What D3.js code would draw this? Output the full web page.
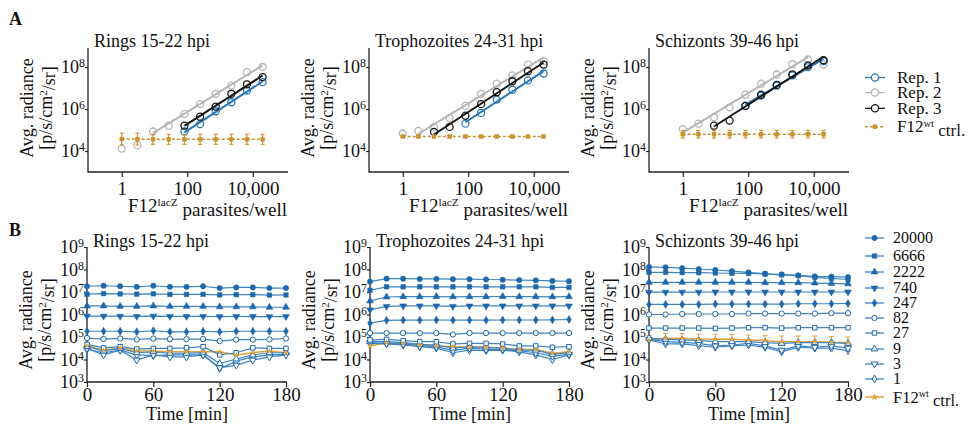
<!DOCTYPE html>
<html>
<head>
<meta charset="utf-8">
<script src="https://cdn.jsdelivr.net/npm/d3@7"></script>
<style>
  body { margin: 0; background: #fff; }
  svg text { font-family: "Liberation Serif", "Times New Roman", serif; fill: #111; }
</style>
</head>
<body>
<svg id="chart" width="969" height="424"></svg>
<script>
// ---------- data ----------
const concentrations = [1, 3, 9, 27, 82, 247, 740, 2222, 6666, 20000]
const xTicksA = [1, 100, 10000]
const yTicksA = [1e4, 1e6, 1e8]
const stageTitles = ["Rings 15-22 hpi", "Trophozoites 24-31 hpi", "Schizonts 39-46 hpi"]
const repNames = ["Rep. 1", "Rep. 2", "Rep. 3"]

// panel A: avg. radiance per replicate (null = not plotted)
const ringsRep1 = [null, null, null, null, 8.5e4, 1.9e5, 7.8e5, 2.1e6, 7.6e6, 1.9e7]
const ringsRep2 = [1.3e4, 1.9e4, 8.5e4, 1.6e5, 5.8e5, 1.7e6, 5.3e6, 1.3e7, 5.7e7, 1.0e8]
const ringsRep3 = [null, null, null, null, 1.6e5, 4.3e5, 1.3e6, 5.3e6, 1.5e7, 3.3e7]
const ringsCtrl = [3.7e4, 3.7e4, 3.6e4, 3.6e4, 3.6e4, 3.6e4, 3.6e4, 3.6e4, 3.6e4, 3.6e4]
const ringsCtrlErr = [0.28, 0.28, 0.24, 0.24, 0.24, 0.24, 0.24, 0.24, 0.24, 0.24] // log10
const ringsFit = [[4, 9], [2, 9], [4, 9]] // first/last point index of each fit line

const trophRep1 = [null, null, null, null, 2.0e5, 6.5e5, 2.8e6, 8.3e6, 2.3e7, 4.9e7]
const trophRep2 = [6.8e4, 9.0e4, 1.4e5, 3.7e5, 1.4e6, 5.3e6, 1.6e7, 4.0e7, 1.3e8, 1.9e8]
const trophRep3 = [null, null, 8.2e4, 1.4e5, 4.8e5, 1.7e6, 6.3e6, 2.1e7, 6.3e7, 1.3e8]
const trophCtrl = [4.9e4, 4.9e4, 4.9e4, 4.9e4, 4.9e4, 4.9e4, 4.9e4, 4.9e4, 4.9e4, 4.9e4]
const trophCtrlErr = [0.05, 0.05, 0.05, 0.05, 0.05, 0.05, 0.05, 0.05, 0.05, 0.05]
const trophFit = [[4, 9], [1, 9], [2, 9]]

const schizRep1 = [null, null, null, null, 1.4e6, 4.4e6, 1.3e7, 4.0e7, 1.0e8, 1.9e8]
const schizRep2 = [1.1e5, 2.0e5, 4.0e5, 1.2e6, 4.8e6, 1.6e7, 4.4e7, 1.35e8, 2.3e8, 1.3e8]
const schizRep3 = [null, null, 1.6e5, 2.8e5, 1.4e6, 4.8e6, 1.4e7, 4.5e7, 1.2e8, 2.1e8]
const schizCtrl = [6.3e4, 6.3e4, 6.3e4, 6.3e4, 6.3e4, 6.3e4, 6.3e4, 6.3e4, 6.3e4, 6.3e4]
const schizCtrlErr = [0.18, 0.18, 0.18, 0.18, 0.18, 0.18, 0.18, 0.18, 0.18, 0.18]
const schizFit = [[4, 9], [0, 8], [2, 9]]

// panel B: kinetics, rows in legend order 20000 ... 1
const timePoints = [0, 15, 30, 45, 60, 75, 90, 105, 120, 135, 150, 165, 180]
const xTicksB = [0, 60, 120, 180]
const yTicksB = [1e3, 1e4, 1e5, 1e6, 1e7, 1e8, 1e9]
const doseLabels = ["20000", "6666", "2222", "740", "247", "82", "27", "9", "3", "1"]

const ringsKinetics = [
  [1.8e7, 1.9e7, 1.8e7, 1.7e7, 1.9e7, 1.7e7, 1.7e7, 1.8e7, 1.5e7, 1.6e7, 1.6e7, 1.5e7, 1.5e7],
  [8.0e6, 8.5e6, 8.2e6, 8.0e6, 8.3e6, 7.8e6, 7.8e6, 7.9e6, 7.4e6, 7.6e6, 7.6e6, 7.3e6, 7.4e6],
  [2.4e6, 2.4e6, 2.3e6, 2.3e6, 2.4e6, 2.3e6, 2.3e6, 2.3e6, 2.2e6, 2.2e6, 2.2e6, 2.1e6, 2.1e6],
  [8.5e5, 8.5e5, 8.4e5, 8.2e5, 8.5e5, 8.2e5, 8.2e5, 8.2e5, 8.0e5, 8.2e5, 8.1e5, 8.0e5, 8.1e5],
  [1.8e5, 1.8e5, 1.8e5, 1.7e5, 1.9e5, 1.7e5, 1.7e5, 1.8e5, 1.7e5, 1.8e5, 1.8e5, 1.8e5, 1.8e5],
  [9.0e4, 8.1e4, 8.6e4, 7.8e4, 8.5e4, 8.0e4, 8.0e4, 8.1e4, 6.6e4, 7.6e4, 7.6e4, 7.8e4, 8.6e4],
  [4.7e4, 3.3e4, 3.7e4, 2.9e4, 3.1e4, 3.1e4, 3.3e4, 3.7e4, 1.6e4, 2.0e4, 3.3e4, 3.1e4, 3.1e4],
  [3.7e4, 2.4e4, 3.1e4, 2.0e4, 2.2e4, 1.9e4, 1.9e4, 2.0e4, 6.6e3, 1.05e4, 1.6e4, 2.0e4, 2.0e4],
  [3.1e4, 1.6e4, 2.6e4, 9.4e3, 1.6e4, 1.3e4, 1.3e4, 1.6e4, 4.3e3, 5.6e3, 9.4e3, 1.3e4, 1.6e4],
  [2.9e4, 2.0e4, 2.6e4, 1.6e4, 1.5e4, 1.6e4, 1.6e4, 1.6e4, 4.0e3, 8.5e3, 1.3e4, 1.6e4, 1.7e4]
]
const ringsKineticsCtrl = [4.1e4, 2.6e4, 3.3e4, 2.4e4, 2.4e4, 2.2e4, 2.2e4, 2.2e4, 2.2e4, 1.6e4, 2.0e4, 2.4e4, 2.0e4]

const trophKinetics = [
  [2.9e7, 3.9e7, 3.9e7, 3.8e7, 3.8e7, 3.7e7, 3.7e7, 3.6e7, 3.5e7, 3.4e7, 3.3e7, 3.1e7, 3.0e7],
  [1.2e7, 1.7e7, 1.7e7, 1.7e7, 1.7e7, 1.7e7, 1.7e7, 1.7e7, 1.7e7, 1.7e7, 1.7e7, 1.6e7, 1.6e7],
  [4.0e6, 6.0e6, 6.2e6, 6.2e6, 6.3e6, 6.1e6, 6.2e6, 6.2e6, 6.3e6, 6.2e6, 6.2e6, 6.1e6, 6.2e6],
  [1.6e6, 2.3e6, 2.4e6, 2.4e6, 2.4e6, 2.3e6, 2.4e6, 2.4e6, 2.4e6, 2.4e6, 2.4e6, 2.4e6, 2.4e6],
  [4.1e5, 5.5e5, 5.6e5, 5.6e5, 5.7e5, 5.6e5, 5.6e5, 5.6e5, 5.7e5, 5.7e5, 5.7e5, 5.8e5, 6.0e5],
  [1.5e5, 1.5e5, 1.5e5, 1.5e5, 1.5e5, 1.3e5, 1.5e5, 1.5e5, 1.5e5, 1.5e5, 1.5e5, 1.5e5, 1.5e5],
  [7.4e4, 7.9e4, 6.9e4, 6.2e4, 6.2e4, 4.9e4, 5.2e4, 5.2e4, 4.9e4, 4.0e4, 4.0e4, 3.5e4, 3.7e4],
  [6.2e4, 6.2e4, 5.6e4, 4.7e4, 4.4e4, 3.2e4, 3.7e4, 3.5e4, 3.2e4, 2.6e4, 2.6e4, 1.7e4, 2.0e4],
  [5.6e4, 5.2e4, 4.9e4, 4.0e4, 3.7e4, 2.5e4, 3.2e4, 2.8e4, 2.8e4, 2.5e4, 2.0e4, 1.4e4, 1.7e4],
  [5.2e4, 4.9e4, 4.4e4, 3.7e4, 3.2e4, 2.0e4, 2.6e4, 2.5e4, 2.6e4, 2.2e4, 1.6e4, 1.0e4, 1.6e4]
]
const trophKineticsCtrl = [4.0e4, 5.6e4, 5.2e4, 4.4e4, 4.0e4, 3.7e4, 3.5e4, 3.5e4, 3.2e4, 2.8e4, 2.8e4, 1.9e4, 2.2e4]

const schizKinetics = [
  [1.3e8, 1.25e8, 1.15e8, 1.05e8, 9.5e7, 8.5e7, 7.5e7, 6.5e7, 6.0e7, 5.5e7, 5.0e7, 4.8e7, 4.6e7],
  [7.5e7, 7.5e7, 7.3e7, 7.2e7, 7.0e7, 6.8e7, 6.7e7, 6.3e7, 5.8e7, 5.3e7, 4.5e7, 4.0e7, 3.6e7],
  [2.7e7, 2.7e7, 2.7e7, 2.7e7, 2.7e7, 2.7e7, 2.7e7, 2.6e7, 2.6e7, 2.6e7, 2.5e7, 2.4e7, 2.3e7],
  [9.8e6, 9.8e6, 9.9e6, 9.9e6, 1.0e7, 1.0e7, 1.0e7, 1.0e7, 1.0e7, 1.0e7, 1.0e7, 1.0e7, 1.0e7],
  [2.8e6, 2.8e6, 2.8e6, 2.8e6, 2.9e6, 2.9e6, 2.9e6, 2.9e6, 2.9e6, 3.0e6, 3.0e6, 3.0e6, 3.1e6],
  [1.0e6, 1.0e6, 1.05e6, 1.05e6, 1.05e6, 1.05e6, 1.1e6, 1.1e6, 1.1e6, 1.1e6, 1.1e6, 1.15e6, 1.15e6],
  [2.5e5, 2.5e5, 2.5e5, 2.5e5, 2.4e5, 2.5e5, 2.6e5, 2.6e5, 2.5e5, 2.6e5, 2.6e5, 2.6e5, 2.6e5],
  [8.7e4, 7.9e4, 7.4e4, 6.9e4, 6.2e4, 6.2e4, 6.2e4, 5.6e4, 5.2e4, 5.6e4, 5.6e4, 5.6e4, 5.2e4],
  [7.9e4, 6.2e4, 5.8e4, 5.2e4, 4.0e4, 4.4e4, 5.2e4, 4.0e4, 2.6e4, 4.0e4, 3.5e4, 4.0e4, 3.2e4],
  [7.4e4, 4.9e4, 4.9e4, 4.1e4, 3.5e4, 4.0e4, 4.4e4, 3.5e4, 2.2e4, 3.5e4, 3.2e4, 3.2e4, 2.5e4]
]
const schizKineticsCtrl = [7.4e4, 8.7e4, 8.7e4, 8.1e4, 7.9e4, 7.9e4, 7.4e4, 6.9e4, 6.2e4, 6.2e4, 6.2e4, 5.8e4, 5.6e4]
const schizKineticsCtrlErr = [0.2, 0.22, 0.22, 0.22, 0.22, 0.22, 0.22, 0.22, 0.25, 0.25, 0.25, 0.25, 0.25]

// ---------- drawing ----------
const svg = d3.select("#chart")
const blue = "#2a77b4", gray = "#b5b5b5", black = "#151515", gold = "#c99330"
const repColors = [blue, gray, black]
const lineBlue = "#3d84c2", markBlue = "#1f67ab", goldB = "#e0a23c"

const supTick = (sel) => {
  sel.selectAll(".tick text").each(function (d) {
    const t = d3.select(this)
    t.append("tspan").text("10")
    t.append("tspan").attr("dy", "-0.5em").attr("font-size", "0.66em").text(Math.round(Math.log10(d)))
  })
}

const yLabel = (g, x0, cy) => {
  g.append("text")
    .attr("transform", `translate(${x0 - 55},${cy}) rotate(-90)`)
    .attr("text-anchor", "middle").attr("font-size", 18)
    .text("Avg. radiance")
  const t = g.append("text")
    .attr("transform", `translate(${x0 - 36},${cy}) rotate(-90)`)
    .attr("text-anchor", "middle").attr("font-size", 18)
  t.append("tspan").text("[p/s/cm")
  t.append("tspan").attr("dy", "-0.45em").attr("font-size", "0.62em").text("2")
  t.append("tspan").attr("dy", "0.45em").text("/sr]")
}

const logFit = (xs, ys) => {
  const pts = xs.map((d, i) => [Math.log10(d), Math.log10(ys[i])])
  const mx = d3.mean(pts, (d) => d[0]), my = d3.mean(pts, (d) => d[1])
  const b = d3.sum(pts, (d) => (d[0] - mx) * (d[1] - my)) / d3.sum(pts, (d) => (d[0] - mx) ** 2)
  const a = my - b * mx
  return (x) => 10 ** (a + b * Math.log10(x))
}

// panel letters
svg.append("text").attr("x", 9).attr("y", 25).attr("font-size", 18).attr("font-weight", "bold").text("A")
svg.append("text").attr("x", 9).attr("y", 236).attr("font-size", 18).attr("font-weight", "bold").text("B")

// ----- panel A -----
const panelA = [
  { reps: [ringsRep1, ringsRep2, ringsRep3], fits: ringsFit, ctrl: ringsCtrl, err: ringsCtrlErr },
  { reps: [trophRep1, trophRep2, trophRep3], fits: trophFit, ctrl: trophCtrl, err: trophCtrlErr },
  { reps: [schizRep1, schizRep2, schizRep3], fits: schizFit, ctrl: schizCtrl, err: schizCtrlErr }
]
const axisXA = [88, 369, 649]

panelA.forEach((p, i) => {
  const x0 = axisXA[i]
  const x = d3.scaleLog().domain([0.1, 1e5]).range([x0 + 1, x0 + 197.5])
  const y = d3.scaleLog().domain([1e3, 1e9]).range([172, 46])
  const g = svg.append("g")

  g.append("text").attr("x", x0 + 6).attr("y", 47).attr("font-size", 18).text(stageTitles[i])

  g.append("path").attr("d", `M${x0},48V172H${x0 + 200}`)
    .attr("fill", "none").attr("stroke", "#222").attr("stroke-width", 1.3)

  g.append("g").attr("transform", "translate(0,172)")
    .call(d3.axisBottom(x).tickValues(xTicksA).tickFormat(d3.format(",")).tickSize(5).tickPadding(5))
    .call((a) => a.select(".domain").remove())
    .attr("font-family", null).attr("font-size", 19)
    .call((a) => a.selectAll("line").attr("stroke", "#222").attr("stroke-width", 1.2))

  g.append("g").attr("transform", `translate(${x0},0)`)
    .call(d3.axisLeft(y).tickValues(yTicksA).tickFormat("").tickSize(3).tickPadding(0))
    .call((a) => a.select(".domain").remove())
    .attr("font-family", null).attr("font-size", 18)
    .call((a) => a.selectAll("line").attr("stroke", "#222").attr("stroke-width", 1.2))
    .call(supTick)

  yLabel(g, x0, 108)

  const xl = g.append("text").attr("x", x0 + 40).attr("y", 212).attr("font-size", 19)
  xl.append("tspan").text("F12")
  xl.append("tspan").attr("dy", "-0.5em").attr("font-size", "0.6em").text("lacZ")
  xl.append("tspan").attr("dy", "0.5em").text(" parasites/well")

  // replicate fits and points
  p.reps.forEach((rep, r) => {
    const [s, e] = p.fits[r]
    const xs = concentrations.slice(s, e + 1), ys = rep.slice(s, e + 1)
    const f = logFit(xs, ys)
    g.append("line")
      .attr("x1", x(xs[0])).attr("y1", y(f(xs[0])))
      .attr("x2", x(xs[xs.length - 1])).attr("y2", y(f(xs[xs.length - 1])))
      .attr("stroke", repColors[r]).attr("stroke-width", 2)
    g.selectAll(null)
      .data(concentrations.map((c, k) => ({ c, v: rep[k] })).filter((d) => d.v !== null))
      .enter().append("circle")
      .attr("cx", (d) => x(d.c)).attr("cy", (d) => y(d.v)).attr("r", 3.5)
      .attr("fill", "none").attr("stroke", repColors[r]).attr("stroke-width", 1.3)
  })

  // F12 wt control
  const ctrl = concentrations.map((c, k) => ({ c, v: p.ctrl[k], e: p.err[k] }))
  g.append("path").datum(ctrl)
    .attr("d", d3.line().x((d) => x(d.c)).y((d) => y(d.v)))
    .attr("fill", "none").attr("stroke", gold).attr("stroke-width", 1.6).attr("stroke-dasharray", "3,2")
  const eb = g.selectAll(null).data(ctrl).enter().append("g").attr("stroke", gold).attr("stroke-width", 1.1)
  eb.append("line").attr("x1", (d) => x(d.c)).attr("x2", (d) => x(d.c))
    .attr("y1", (d) => y(d.v * 10 ** d.e)).attr("y2", (d) => y(d.v / 10 ** d.e))
  eb.append("line").attr("x1", (d) => x(d.c) - 2).attr("x2", (d) => x(d.c) + 2)
    .attr("y1", (d) => y(d.v * 10 ** d.e)).attr("y2", (d) => y(d.v * 10 ** d.e))
  eb.append("line").attr("x1", (d) => x(d.c) - 2).attr("x2", (d) => x(d.c) + 2)
    .attr("y1", (d) => y(d.v / 10 ** d.e)).attr("y2", (d) => y(d.v / 10 ** d.e))
  g.selectAll(null).data(ctrl).enter().append("rect")
    .attr("x", (d) => x(d.c) - 2.2).attr("y", (d) => y(d.v) - 2.2)
    .attr("width", 4.4).attr("height", 4.4).attr("fill", gold)
})

// legend A
const legA = svg.append("g")
const legAY = [77.5, 92.5, 108.3, 126.7]
repNames.forEach((n, r) => {
  legA.append("line").attr("x1", 865).attr("x2", 885).attr("y1", legAY[r]).attr("y2", legAY[r])
    .attr("stroke", repColors[r]).attr("stroke-width", 1.3)
  legA.append("circle").attr("cx", 875).attr("cy", legAY[r]).attr("r", 3.6)
    .attr("fill", "#fff").attr("stroke", repColors[r]).attr("stroke-width", 1.3)
  legA.append("text").attr("x", 897).attr("y", legAY[r]).attr("dy", "0.34em").attr("font-size", 17).text(n)
})
legA.append("line").attr("x1", 865).attr("x2", 885).attr("y1", legAY[3]).attr("y2", legAY[3])
  .attr("stroke", gold).attr("stroke-width", 1.6).attr("stroke-dasharray", "3,2")
legA.append("rect").attr("x", 872.8).attr("y", legAY[3] - 2.2).attr("width", 4.4).attr("height", 4.4).attr("fill", gold)
const lA = legA.append("text").attr("x", 897).attr("y", legAY[3]).attr("dy", "0.34em").attr("font-size", 17)
lA.append("tspan").text("F12")
lA.append("tspan").attr("dy", "-0.5em").attr("font-size", "0.62em").text("wt")
lA.append("tspan").attr("dy", "0.5em").text(" ctrl.")

// ----- panel B -----
const panelB = [
  { series: ringsKinetics, ctrl: ringsKineticsCtrl, err: null },
  { series: trophKinetics, ctrl: trophKineticsCtrl, err: null },
  { series: schizKinetics, ctrl: schizKineticsCtrl, err: schizKineticsCtrlErr }
]
const axisXB = [87, 370, 649]
const shapes = [d3.symbolCircle, d3.symbolSquare, d3.symbolTriangle, d3.symbolTriangle, d3.symbolDiamond,
  d3.symbolCircle, d3.symbolSquare, d3.symbolTriangle, d3.symbolTriangle, d3.symbolDiamond]
const shapeSize = [22, 20, 20, 20, 18, 22, 20, 20, 20, 18]
const shapeRot = [0, 0, 0, 180, 0, 0, 0, 0, 180, 0]

const marker = (sel, k) => {
  sel.attr("d", d3.symbol().type(shapes[k]).size(shapeSize[k])())
    .attr("fill", k < 5 ? markBlue : "#fff")
    .attr("stroke", markBlue).attr("stroke-width", k < 5 ? 0.6 : 1)
}

panelB.forEach((p, i) => {
  const x0 = axisXB[i]
  const x = d3.scaleLinear().domain([0, 180]).range([x0, x0 + 199])
  const y = d3.scaleLog().domain([1e3, 1e9]).range([382, 247])
  const g = svg.append("g")

  g.append("text").attr("x", x0 + 6).attr("y", 247).attr("font-size", 18).text(stageTitles[i])

  g.append("path").attr("d", `M${x0},247V382H${x0 + 200}`)
    .attr("fill", "none").attr("stroke", "#222").attr("stroke-width", 1.3)

  g.append("g").attr("transform", "translate(0,382)")
    .call(d3.axisBottom(x).tickValues(xTicksB).tickSize(5).tickPadding(1))
    .call((a) => a.select(".domain").remove())
    .attr("font-family", null).attr("font-size", 19)
    .call((a) => a.selectAll("line").attr("stroke", "#222").attr("stroke-width", 1.2))

  g.append("g").attr("transform", `translate(${x0},0)`)
    .call(d3.axisLeft(y).tickValues(yTicksB).tickFormat("").tickSize(3).tickPadding(0))
    .call((a) => a.select(".domain").remove())
    .attr("font-family", null).attr("font-size", 18)
    .call((a) => a.selectAll("line").attr("stroke", "#222").attr("stroke-width", 1.2))
    .call(supTick)

  yLabel(g, x0, 320)

  g.append("text").attr("x", x0 + 100).attr("y", 419.5).attr("text-anchor", "middle")
    .attr("font-size", 18).text("Time [min]")

  const line = d3.line().x((d, k) => x(timePoints[k])).y((d) => y(d))

  // control
  g.append("path").datum(p.ctrl).attr("d", line)
    .attr("fill", "none").attr("stroke", goldB).attr("stroke-width", 1.5)
  if (p.err) {
    const eb = g.selectAll(null).data(p.ctrl.map((v, k) => ({ t: timePoints[k], v, e: p.err[k] })))
      .enter().append("g").attr("stroke", goldB).attr("stroke-width", 1)
    eb.append("line").attr("x1", (d) => x(d.t)).attr("x2", (d) => x(d.t))
      .attr("y1", (d) => y(d.v)).attr("y2", (d) => y(d.v * 10 ** d.e))
    eb.append("line").attr("x1", (d) => x(d.t) - 2.5).attr("x2", (d) => x(d.t) + 2.5)
      .attr("y1", (d) => y(d.v * 10 ** d.e)).attr("y2", (d) => y(d.v * 10 ** d.e))
  }

  // dose series, lowest first so the high ones sit on top
  for (let k = p.series.length - 1; k >= 0; k--) {
    const s = p.series[k]
    g.append("path").datum(s).attr("d", line)
      .attr("fill", "none").attr("stroke", lineBlue).attr("stroke-width", 1.2)
    g.selectAll(null).data(s).enter().append("path")
      .attr("transform", (d, j) => `translate(${x(timePoints[j])},${y(d)}) rotate(${shapeRot[k]})`)
      .call(marker, k)
  }

  g.selectAll(null).data(p.ctrl).enter().append("path")
    .attr("transform", (d, j) => `translate(${x(timePoints[j])},${y(d)})`)
    .attr("d", d3.symbol().type(d3.symbolStar).size(12)())
    .attr("fill", goldB)
})

// legend B
const legB = svg.append("g")
const legBY = [238, 256, 272, 288, 303, 318, 333, 349, 364, 379]
doseLabels.forEach((n, k) => {
  legB.append("line").attr("x1", 865).attr("x2", 884).attr("y1", legBY[k]).attr("y2", legBY[k])
    .attr("stroke", lineBlue).attr("stroke-width", 1.3)
  legB.append("path").attr("transform", `translate(874.5,${legBY[k]}) rotate(${shapeRot[k]})`).call(marker, k)
  legB.append("text").attr("x", 893).attr("y", legBY[k]).attr("dy", "0.34em").attr("font-size", 16).text(n)
})
legB.append("line").attr("x1", 865).attr("x2", 884).attr("y1", 397).attr("y2", 397)
  .attr("stroke", goldB).attr("stroke-width", 1.5)
legB.append("path").attr("transform", "translate(874.5,397)")
  .attr("d", d3.symbol().type(d3.symbolStar).size(20)()).attr("fill", goldB)
const lB = legB.append("text").attr("x", 893).attr("y", 397).attr("dy", "0.34em").attr("font-size", 16.5)
lB.append("tspan").text("F12")
lB.append("tspan").attr("dy", "-0.5em").attr("font-size", "0.62em").text("wt")
lB.append("tspan").attr("dy", "0.5em").text(" ctrl.")
</script>
</body>
</html>
